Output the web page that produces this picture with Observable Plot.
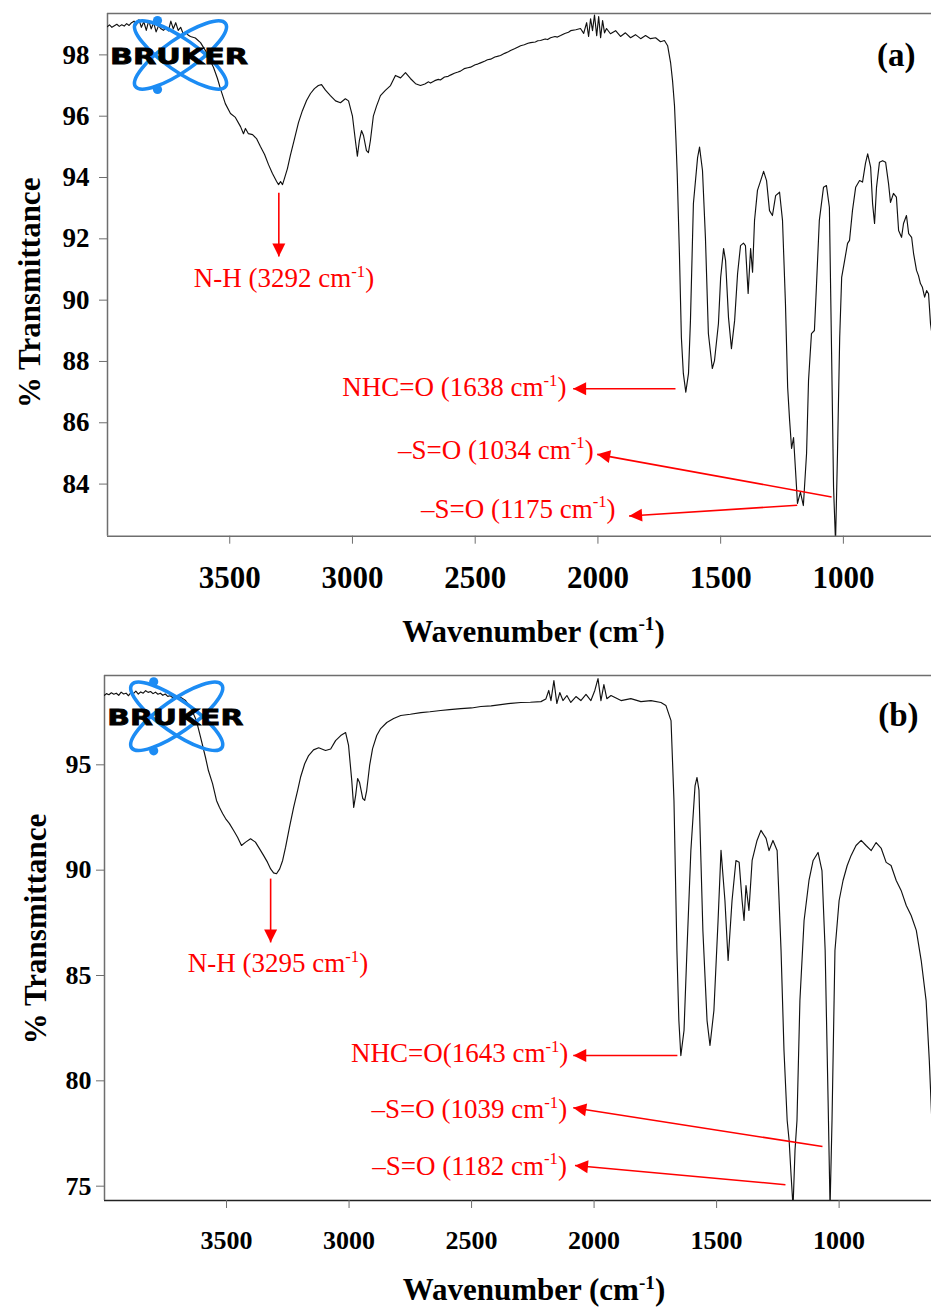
<!DOCTYPE html>
<html><head><meta charset="utf-8">
<script src="https://cdn.jsdelivr.net/npm/d3@7"></script>
<script src="https://cdn.jsdelivr.net/npm/@observablehq/plot@0.6"></script>
<style>
body{margin:0;background:#fff;}
#wrap{position:relative;width:931px;height:1309px;overflow:hidden;}
#wrap svg{display:block;}
</style></head><body><div id="wrap"></div>
<script>
// ---------- DATA ----------
const xTicks = [3500, 3000, 2500, 2000, 1500, 1000];
const yTicksA = [84, 86, 88, 90, 92, 94, 96, 98];
const yTicksB = [75, 80, 85, 90, 95];

// Panel (a) spectrum: wavenumber (cm-1) and % transmittance
const wnA = [3998,3990,3980,3970,3960,3950,3940,3930,3920,3910,3900,3890,3880,3870,3860,3850,3840,3830,3820,3810,3800,3790,3780,3770,3760,3750,3740,3730,3720,3710,3700,3690,3680,3670,3660,3640,3619,3599,3566,3550,3538,3518,3497,3477,3456,3444,3436,3424,3407,3391,3375,3358,3342,3326,3309,3301,3293,3285,3277,3265,3253,3236,3220,3204,3187,3171,3155,3139,3126,3110,3090,3069,3049,3029,3016,3000,2988,2980,2972,2963,2955,2943,2935,2927,2915,2902,2886,2866,2845,2825,2804,2784,2764,2743,2723,2705,2690,2682,2665,2650,2642,2625,2610,2601,2585,2570,2560,2545,2530,2519,2500,2490,2478,2460,2450,2437,2420,2410,2397,2380,2365,2356,2340,2325,2315,2300,2285,2274,2255,2245,2234,2215,2205,2193,2175,2165,2152,2135,2120,2111,2090,2071,2058,2046,2038,2030,2022,2014,2005,1997,1989,1981,1973,1965,1949,1928,1908,1888,1867,1847,1826,1806,1786,1765,1745,1729,1716,1704,1696,1688,1682,1677,1668,1660,1652,1642,1631,1623,1611,1594,1586,1574,1562,1550,1534,1525,1509,1500,1488,1480,1468,1456,1443,1431,1419,1407,1399,1388,1378,1370,1362,1350,1337,1325,1313,1301,1289,1276,1260,1248,1236,1227,1219,1211,1203,1195,1187,1175,1163,1150,1142,1130,1118,1110,1098,1081,1069,1057,1048,1040,1032,1024,1015,1007,995,983,975,963,950,934,922,910,901,889,881,873,865,853,840,828,816,808,796,784,775,763,755,743,734,722,714,702,694,686,678,669,661,653,645,641];
const tA = [98.92,98.98,98.90,98.95,99.00,98.93,98.98,98.94,99.02,98.96,99.05,99.10,98.98,99.15,98.90,99.08,98.80,99.12,98.85,99.05,98.75,98.95,98.85,98.80,98.88,98.78,99.10,98.85,99.05,98.80,98.90,98.70,98.75,98.65,98.60,98.55,98.40,98.14,97.59,97.23,96.90,96.41,96.09,95.96,95.66,95.43,95.60,95.43,95.40,95.27,95.01,94.75,94.42,94.13,93.87,93.77,93.87,93.77,93.97,94.29,94.72,95.27,95.79,96.18,96.51,96.74,96.90,97.00,97.03,96.85,96.67,96.50,96.44,96.57,96.50,96.00,95.20,94.70,95.20,95.53,95.37,94.88,94.81,95.20,96.00,96.33,96.67,96.84,97.00,97.33,97.25,97.42,97.23,97.06,97.00,97.05,97.12,97.08,97.16,97.20,97.18,97.28,97.30,97.34,97.40,97.44,97.47,97.55,97.58,97.60,97.68,97.70,97.74,97.80,97.84,97.86,97.93,97.95,97.98,98.05,98.10,98.14,98.20,98.26,98.30,98.33,98.38,98.40,98.42,98.46,98.47,98.52,98.50,98.56,98.60,98.58,98.63,98.70,98.74,98.79,98.82,98.86,98.70,99.05,98.60,99.18,98.79,99.30,98.63,99.25,98.56,99.12,98.72,98.86,98.69,98.79,98.60,98.72,98.56,98.66,98.53,98.63,98.53,98.56,98.43,98.47,98.30,97.75,97.16,96.34,95.21,94.13,91.52,88.78,87.61,87.00,87.61,89.34,93.15,94.65,94.99,94.23,92.04,88.91,87.77,88.03,89.24,90.74,91.68,91.29,89.43,88.42,89.34,90.87,91.78,91.86,91.78,90.22,91.68,90.91,92.60,93.58,93.90,94.20,93.90,92.92,92.76,93.41,93.52,92.60,89.89,87.15,86.07,85.16,85.52,84.45,83.37,83.74,83.30,85.00,87.38,88.91,89.01,90.41,92.60,93.68,93.74,93.03,88.26,83.89,82.10,85.00,88.78,90.74,91.29,91.85,91.95,92.92,93.68,93.90,93.85,94.46,94.77,94.34,93.15,92.50,93.68,94.50,94.55,94.50,93.80,93.19,93.48,93.36,92.27,92.05,92.50,92.76,92.17,92.05,91.52,90.97,90.80,90.54,90.42,90.10,90.31,90.21,89.23,89.00];

// Panel (b) spectrum
const wnB = [3998,3990,3980,3970,3960,3950,3940,3930,3920,3910,3900,3890,3880,3870,3860,3850,3840,3830,3820,3810,3800,3790,3780,3770,3760,3750,3740,3730,3720,3700,3688,3667,3647,3623,3606,3586,3574,3557,3541,3529,3516,3504,3488,3471,3455,3439,3422,3402,3382,3365,3349,3333,3320,3308,3296,3283,3271,3259,3243,3226,3210,3198,3181,3165,3145,3124,3096,3075,3055,3034,3014,3002,2989,2981,2973,2965,2957,2944,2936,2928,2916,2904,2887,2871,2846,2818,2789,2750,2707,2670,2626,2590,2544,2500,2462,2420,2381,2340,2299,2260,2217,2197,2185,2176,2164,2152,2140,2127,2111,2095,2074,2054,2033,2013,1997,1984,1972,1960,1948,1931,1890,1850,1809,1768,1727,1707,1686,1674,1662,1654,1646,1633,1621,1605,1588,1580,1572,1556,1539,1527,1511,1494,1482,1466,1453,1437,1421,1408,1396,1388,1380,1368,1355,1335,1319,1298,1286,1270,1253,1237,1225,1212,1204,1196,1188,1180,1172,1160,1143,1123,1106,1086,1070,1057,1045,1037,1029,1017,1000,984,967,951,931,910,890,869,849,828,808,788,767,747,726,706,685,665,645,632,620];
const tB = [98.30,98.38,98.33,98.42,98.35,98.40,98.30,98.45,98.36,98.40,98.28,98.44,98.38,98.50,98.36,98.46,98.40,98.52,98.44,98.48,98.38,98.45,98.35,98.40,98.30,98.36,98.25,98.28,98.20,98.15,98.21,98.05,97.73,97.10,96.31,95.36,94.73,94.11,93.31,92.99,92.69,92.45,92.21,91.88,91.56,91.17,91.33,91.49,91.33,91.01,90.70,90.38,90.06,89.87,89.83,90.06,90.46,91.09,92.04,92.99,93.78,94.41,95.05,95.44,95.71,95.81,95.68,95.75,96.15,96.39,96.53,95.92,94.26,92.98,93.55,94.35,94.16,93.40,93.31,93.78,94.97,95.77,96.39,96.72,97.01,97.20,97.34,97.40,97.48,97.52,97.58,97.62,97.67,97.70,97.77,97.80,97.86,97.92,97.96,97.97,98.00,98.12,98.53,98.05,99.00,97.91,98.43,98.05,98.29,97.96,98.24,98.05,98.34,98.05,98.53,99.09,98.05,98.81,98.14,98.29,98.05,98.14,98.00,98.05,97.96,97.82,97.10,93.31,86.19,82.86,81.20,82.39,86.19,90.93,94.00,94.40,93.80,87.14,82.86,81.68,83.34,87.61,90.94,88.56,85.71,88.56,90.46,90.37,88.56,87.61,89.27,88.09,90.46,91.41,91.89,91.51,90.93,91.41,90.93,86.19,81.44,78.12,77.17,75.51,74.00,76.70,78.12,83.81,87.61,89.51,90.46,90.84,89.98,86.19,79.07,74.00,78.12,86.19,88.56,89.51,90.22,90.70,91.17,91.41,91.17,90.93,91.31,91.03,90.37,90.22,89.51,89.04,88.32,87.85,87.14,85.71,83.81,80.97,77.64];

// Peak annotations, panel (a)
const annLabelsA = ["N-H (3292 cm-1)", "NHC=O (1638 cm-1)", "\u2013S=O (1034 cm-1)", "\u2013S=O (1175 cm-1)"];
const annTextWnA = [3279, 2128, 2017, 1928];
const annTextTA = [90.71, 87.15, 85.11, 83.18];
const arrowFromWnA = [3300, 1684, 1048, 1188];
const arrowFromTA = [93.50, 87.11, 83.58, 83.31];
const arrowToWnA = [3300, 2101, 2003, 1873];
const arrowToTA = [91.42, 87.11, 84.97, 82.96];

// Peak annotations, panel (b)
const annLabelsB = ["N-H (3295 cm-1)", "NHC=O(1643 cm-1)", "\u2013S=O (1039 cm-1)", "\u2013S=O (1182 cm-1)"];
const annTextWnB = [3290, 2105, 2110, 2111];
const annTextTB = [85.57, 81.30, 78.64, 75.95];
const arrowFromWnB = [3320, 1660, 1068, 1219];
const arrowFromTB = [89.60, 81.20, 76.88, 75.07];
const arrowToWnB = [3320, 2085, 2085, 2078];
const arrowToTB = [86.57, 81.20, 78.72, 75.98];

// ---------- RENDER ----------
const SERIF = "'Liberation Serif', 'Times New Roman', Times, serif";
const AXIS = "#6e6e6e";

function build(cfg) {
  const spec = cfg.wn.map((w, i) => ({wn: w, t: cfg.t[i]}));
  const ann = cfg.labels.map((s, i) => ({
    label: s, tx: cfg.textWn[i], ty: cfg.textT[i],
    x1: cfg.fromWn[i], y1: cfg.fromT[i], x2: cfg.toWn[i], y2: cfg.toT[i]
  }));
  const vert = ann.filter(d => d.x1 === d.x2);
  const horiz = ann.filter(d => d.x1 !== d.x2);
  return Plot.plot({
    width: 931, height: cfg.height,
    marginTop: cfg.mt, marginBottom: cfg.mb, marginLeft: cfg.ml, marginRight: 0,
    style: {fontFamily: SERIF, background: "white", overflow: "visible", color: "black"},
    x: {domain: cfg.xDomain, axis: null},
    y: {domain: cfg.yDomain, axis: null},
    marks: [
      Plot.ruleY([cfg.yDomain[1]], {stroke: AXIS, strokeWidth: 1.5}),
      Plot.ruleY([cfg.yDomain[0]], {stroke: cfg.bottomColor, strokeWidth: 1.5}),
      Plot.ruleX([cfg.xDomain[0]], {stroke: AXIS, strokeWidth: 1.5}),
      Plot.axisX({ticks: xTicks, tickFormat: d => `${d}`, tickSize: 8, tickPadding: cfg.xPad,
        fontSize: cfg.xfs, fontWeight: "bold", stroke: AXIS, fill: "black", label: null}),
      Plot.axisY({ticks: cfg.yTicks, tickFormat: d => `${d}`, tickSize: 8, tickPadding: cfg.yPad,
        fontSize: cfg.yfs, fontWeight: "bold", stroke: AXIS, fill: "black", label: null}),
      Plot.line(spec, {x: "wn", y: "t", stroke: "#111", strokeWidth: 1.15, clip: true}),
      Plot.link(ann, {x1: "x1", y1: "y1", x2: "x2", y2: "y2", stroke: "#ff0000", strokeWidth: 1.6, markerEnd: "arrow"}),
      Plot.text(vert, {x: "tx", y: "ty", text: "label", fill: "#ff0000", fontSize: 27, textAnchor: "middle", lineAnchor: "middle"}),
      Plot.text(horiz, {x: "tx", y: "ty", text: "label", fill: "#ff0000", fontSize: 27, textAnchor: "end", lineAnchor: "middle"}),
      Plot.text([cfg.panel], {frameAnchor: "top-right", textAnchor: "end", lineAnchor: "middle",
        dx: cfg.pdx, dy: cfg.pdy, fontSize: 33, fontWeight: "bold"}),
      Plot.text(["Wavenumber (cm-1)"], {frameAnchor: "bottom", textAnchor: "middle", lineAnchor: "middle",
        dx: cfg.tdx, dy: cfg.tdy, fontSize: 31, fontWeight: "bold"}),
      Plot.text(["% Transmittance"], {frameAnchor: "left", textAnchor: "middle", lineAnchor: "middle",
        rotate: -90, dx: cfg.ydx, dy: cfg.ydy, fontSize: 31, fontWeight: "bold"})
    ]
  });
}

function supify(svg) {
  svg.querySelectorAll("text").forEach(t => {
    if (t.querySelector("tspan")) return;
    const s = t.textContent;
    const i = s.indexOf("cm-1");
    if (i < 0) return;
    const before = s.slice(0, i + 2), after = s.slice(i + 4);
    t.textContent = "";
    t.appendChild(document.createTextNode(before));
    const sup = document.createElementNS("http://www.w3.org/2000/svg", "tspan");
    sup.setAttribute("font-size", "62%");
    sup.setAttribute("dy", "-0.62em");
    sup.textContent = "-1";
    t.appendChild(sup);
    const rest = document.createElementNS("http://www.w3.org/2000/svg", "tspan");
    rest.setAttribute("dy", "0.385em");
    rest.textContent = after;
    t.appendChild(rest);
  });
}

function fixMarkers(svg) {
  svg.querySelectorAll("marker").forEach(m => {
    m.setAttribute("viewBox", "-14 -7 15 14");
    m.setAttribute("markerWidth", 15);
    m.setAttribute("markerHeight", 14);
    m.setAttribute("markerUnits", "userSpaceOnUse");
    m.setAttribute("fill", "#ff0000");
    m.setAttribute("stroke", "none");
    while (m.firstChild) m.removeChild(m.firstChild);
    const p = document.createElementNS("http://www.w3.org/2000/svg", "path");
    p.setAttribute("d", "M-13,-6.5L0,0L-13,6.5Z");
    m.appendChild(p);
  });
}

function addLogo(svg, cx, cy, tx, tBase, tw) {
  const g = d3.select(svg).append("g").attr("pointer-events", "none");
  const blue = "#1c8cf4";
  [35, -35].forEach(a => {
    g.append("ellipse").attr("cx", cx).attr("cy", cy).attr("rx", 55).attr("ry", 16)
      .attr("transform", `rotate(${a},${cx},${cy})`)
      .attr("fill", "none").attr("stroke", blue).attr("stroke-width", 3.6);
  });
  g.append("circle").attr("cx", cx - 23).attr("cy", cy - 34.5).attr("r", 4.6).attr("fill", blue);
  g.append("circle").attr("cx", cx - 23).attr("cy", cy + 34.5).attr("r", 4.6).attr("fill", blue);
  g.append("text").attr("x", tx).attr("y", tBase).text("BRUKER")
    .attr("text-anchor", "start")
    .attr("font-family", "'DejaVu Sans', Arial, sans-serif").attr("font-weight", 900)
    .attr("font-size", 22).attr("textLength", tw).attr("lengthAdjust", "spacingAndGlyphs")
    .attr("fill", "black").attr("stroke", "black").attr("stroke-width", 0.8);
}

const wrap = document.getElementById("wrap");

const svgA = build({
  wn: wnA, t: tA, labels: annLabelsA, textWn: annTextWnA, textT: annTextTA,
  fromWn: arrowFromWnA, fromT: arrowFromTA, toWn: arrowToWnA, toT: arrowToTA,
  height: 660, mt: 13, mb: 124.3, ml: 107,
  xDomain: [3998, 641], yDomain: [82.30, 99.35], yTicks: yTicksA,
  xfs: 31, yfs: 27, xPad: 22, yPad: 10, bottomColor: AXIS,
  panel: "(a)", pdx: -16, pdy: 42, tdx: 14, tdy: 96, ydx: -77, ydy: 18
});
wrap.appendChild(svgA);

const svgB = build({
  wn: wnB, t: tB, labels: annLabelsB, textWn: annTextWnB, textT: annTextTB,
  fromWn: arrowFromWnB, fromT: arrowFromTB, toWn: arrowToWnB, toT: arrowToTB,
  height: 649, mt: 15, mb: 109, ml: 104,
  xDomain: [3998, 623], yDomain: [74.32, 99.24], yTicks: yTicksB,
  xfs: 26, yfs: 26, xPad: 22, yPad: 5, bottomColor: "#222",
  panel: "(b)", pdx: -13, pdy: 40, tdx: 16, tdy: 90, ydx: -68, ydy: -9
});
wrap.appendChild(svgB);

[svgA, svgB].forEach(s => { supify(s); fixMarkers(s); });
addLogo(svgA, 180.5, 55, 110, 64, 138);
addLogo(svgB, 176.7, 56.3, 107.3, 65, 136);
</script>
</body></html>
